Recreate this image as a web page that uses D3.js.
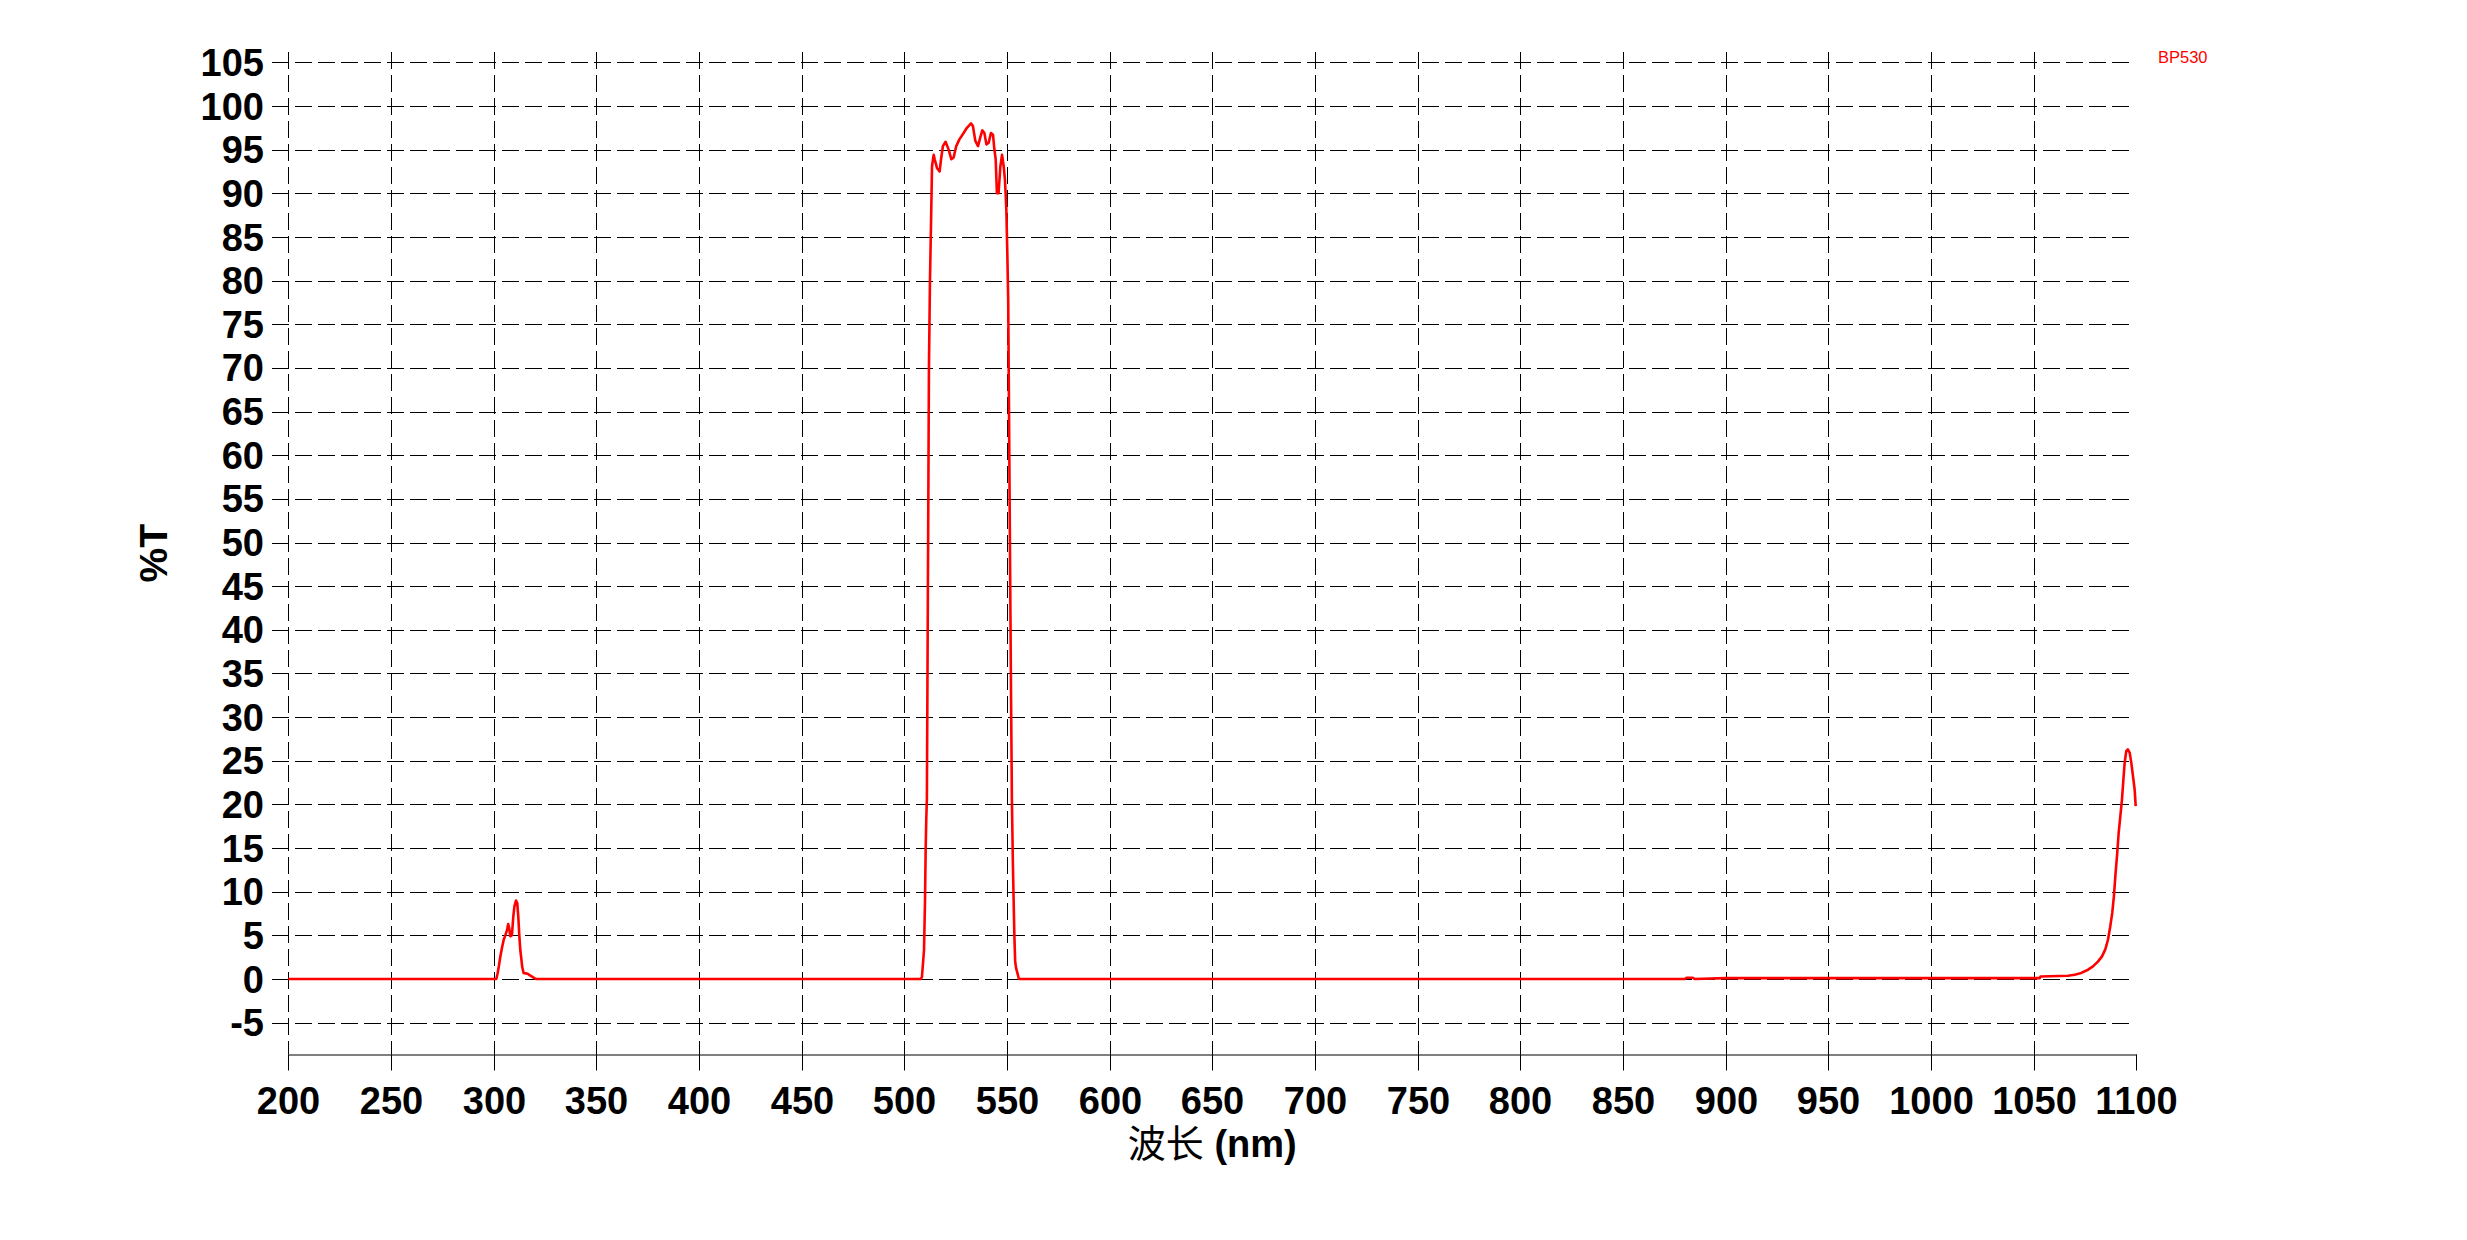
<!DOCTYPE html>
<html>
<head>
<meta charset="utf-8">
<script src="https://cdn.jsdelivr.net/npm/d3@7/dist/d3.min.js"></script>
<style>
  html, body { margin: 0; padding: 0; background: #fff; }
  svg { display: block; }
</style>
</head>
<body>
<svg id="chart" width="2467" height="1240"></svg>
<script>
// ---- data ----
const xTicks = [200,250,300,350,400,450,500,550,600,650,700,750,800,850,900,950,1000,1050,1100];
const yTicks = [-5,0,5,10,15,20,25,30,35,40,45,50,55,60,65,70,75,80,85,90,95,100,105];

const uvWl = [200,301.3,301.9,302.6,303.2,304,304.9,305.7,306.5,307.1,307.6,308.1,308.9,309.6,310.1,310.9,311.5,312,312.5,313,313.5,313.9,314.6,315.6,316.6,317.5,318.7,319.8,320.8];
const uvT  = [0,0,0.6,1.55,2.5,3.5,4.5,5.0,5.6,6.3,5.8,4.9,5.0,7.2,8.3,9.0,8.7,7.2,5.0,3.3,2.3,1.4,0.7,0.65,0.6,0.45,0.27,0.1,0];

const passWl = [508.1,508.6,509.1,509.6,510.1,510.4,510.7,511,511.5,512,512.5,513,513.5,514.3,514.8,515.9,517.2,517.9,518.8,520.1,521.6,522.9,524,525.3,526.9,528.9,530.5,532.5,533.4,534.6,535.9,537,538,539,540,541.1,542.2,543.2,543.8,544.5,545.1,545.9,546.8,547.6,548.4,549,549.4,549.7,550.2,550.6,551,551.5,552,552.4,552.9,553.6,554,554.5,555.2,555.8];
const passT  = [0,0.27,1.8,3.3,9.1,14.8,18.3,20.6,45,70,80,86.3,93.1,94.4,93.9,92.9,92.5,93.9,95.4,95.9,95.0,93.9,94.1,95.4,96.2,96.9,97.5,98.0,97.7,96.0,95.4,96.4,97.2,96.9,95.6,95.8,96.9,96.7,95.2,93.9,90.0,90.0,93.1,94.4,93.1,91.6,89.7,88.1,82.8,77.8,65,48,32,20.6,13,5,2.0,1.2,0.6,0];

const nirWl = [880,881,884,885,900,1053,1053.4,1066.7,1070,1073.2,1076.5,1078.9,1081.3,1083.3,1084.9,1086.2,1087.3,1088.3,1089.1,1089.9,1090.7,1091.4,1092.2,1093,1093.7,1094.3,1095.1,1095.9,1096.8,1097.6,1098.4,1099.2,1099.7];
const nirT  = [0,0.15,0.15,0,0.1,0.1,0.3,0.38,0.5,0.7,1.07,1.45,2.0,2.6,3.4,4.5,6.0,7.6,9.5,12.1,14.4,16.7,18.6,20.5,22.8,24.7,26.1,26.3,25.9,24.7,23.2,21.7,19.8];

const seriesName = "BP530";
const xTitleCJK = "波长";
const xTitleUnit = " (nm)";
const yTitle = "%T";

// ---- build ----
const wl = uvWl.concat(passWl, nirWl);
const tr = uvT.concat(passT, nirT);
const pts = wl.map((w, i) => [w, tr[i]]);

const svg = d3.select("#chart");
const x = d3.scaleLinear().domain([200, 1100]).range([288.3, 2136.3]);
const y = d3.scaleLinear().domain([-5, 105]).range([1022.7, 62.3]);
const snap = v => Math.round(v) + 0.5;

const yBottom = snap(y(-8.6));
const yTop = Math.round(y(106.2));
const font = "'Liberation Sans', Arial, sans-serif";

// horizontal gridlines
svg.append("g").selectAll("line").data(yTicks).join("line")
  .attr("x1", 272).attr("x2", x(1097))
  .attr("y1", d => snap(y(d))).attr("y2", d => snap(y(d)))
  .attr("stroke", "#000").attr("stroke-width", 1)
  .attr("stroke-dasharray", "17,6");

// vertical gridlines
svg.append("g").selectAll("line").data(xTicks.filter(d => d < 1100)).join("line")
  .attr("x1", d => snap(x(d))).attr("x2", d => snap(x(d)))
  .attr("y1", yTop).attr("y2", yBottom)
  .attr("stroke", "#000").attr("stroke-width", 1)
  .attr("stroke-dasharray", "17,6");

// left tick marks (solid)
svg.append("g").selectAll("line").data(yTicks).join("line")
  .attr("x1", 272).attr("x2", snap(x(200)))
  .attr("y1", d => snap(y(d))).attr("y2", d => snap(y(d)))
  .attr("stroke", "#000").attr("stroke-width", 1);

// bottom axis
const xAxis = d3.axisBottom(x).tickValues(xTicks).tickSize(16).tickSizeOuter(0).tickPadding(16).tickFormat(d3.format("d"));
const gx = svg.append("g").attr("transform", `translate(0,${yBottom})`).call(xAxis);
gx.select(".domain").attr("stroke", "#000").attr("stroke-width", 1.2);
gx.selectAll(".tick").attr("transform", d => `translate(${snap(x(d))},0)`);
gx.selectAll(".tick line").attr("stroke", "#000").attr("stroke-width", 1);
gx.selectAll(".tick text")
  .attr("font-family", font).attr("font-weight", "bold").attr("font-size", 38)
  .attr("fill", "#000").attr("dy", null).attr("y", 59);

// y labels
svg.append("g").selectAll("text").data(yTicks).join("text")
  .attr("x", 264).attr("y", d => y(d) + 13.6)
  .attr("text-anchor", "end")
  .attr("font-family", font).attr("font-weight", "bold").attr("font-size", 38)
  .attr("fill", "#000")
  .text(d => d);

// curve
const line = d3.line().x(d => x(d[0])).y(d => y(d[1]));
svg.append("path").datum(pts)
  .attr("d", line)
  .attr("fill", "none").attr("stroke", "#ff0000").attr("stroke-width", 2.6)
  .attr("stroke-linejoin", "round");

// x title
const xt = svg.append("text")
  .attr("x", (x(200) + x(1100)) / 2).attr("y", 1157)
  .attr("text-anchor", "middle").attr("font-size", 38).attr("fill", "#000");
xt.append("tspan").attr("font-family", "'Noto Sans CJK SC', sans-serif").text(xTitleCJK);
xt.append("tspan").attr("font-family", font).attr("font-weight", "bold").text(xTitleUnit);

// y title
svg.append("text")
  .attr("transform", `translate(167,${(yTop + yBottom) / 2}) rotate(-90)`)
  .attr("text-anchor", "middle")
  .attr("font-family", font).attr("font-weight", "bold").attr("font-size", 39)
  .attr("fill", "#000")
  .text(yTitle);

// legend label
svg.append("text")
  .attr("x", 2158).attr("y", 63)
  .attr("font-family", font).attr("font-size", 16.5)
  .attr("fill", "#ff0000")
  .text(seriesName);
</script>
</body>
</html>
